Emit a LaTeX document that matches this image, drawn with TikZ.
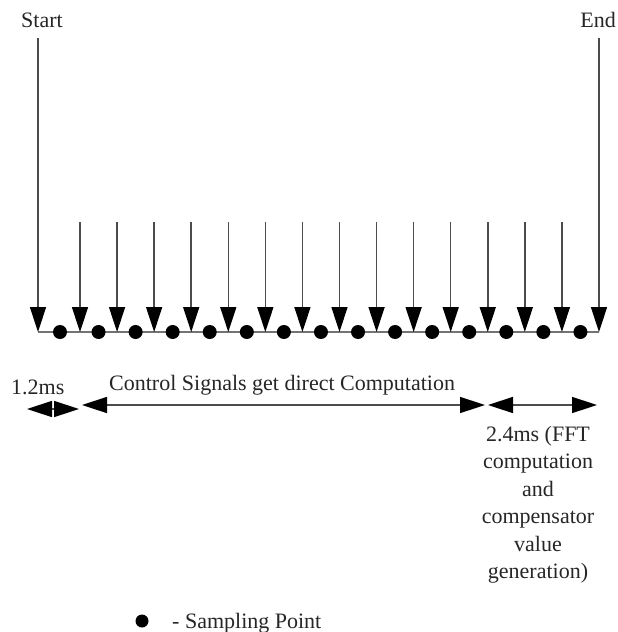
\documentclass[tikz,border=0pt]{standalone}
\usepackage{fontspec}
\setmainfont{Liberation Serif}
\usetikzlibrary{arrows.meta}
\begin{document}
\begin{tikzpicture}[x=1pt,y=-1pt,
  tri/.style={-{Triangle[length=25pt,width=16pt,color=black]}, line width=1.5pt, draw=black!70},
  dbl/.style={{Triangle[length=25pt,width=16pt,color=black]}-{Triangle[length=25pt,width=16pt,color=black]}, line width=1.5pt, draw=black!70},
  lbl/.style={font=\fontsize{22}{27.4}\selectfont, inner sep=0pt, text=black!85},
  sdot/.style={circle, fill=black, minimum size=14pt, inner sep=0pt}]
\useasboundingbox (0,0) rectangle (618,632);
% baseline
\coordinate (bl) at (38,332);
\coordinate (br) at (599,332);
\draw[line width=1.6pt, draw=black!55] (bl) -- (br);
% start / end
\node[lbl, anchor=base] (start) at (42,27) {Start};
\node[lbl, anchor=base east] (end) at (616,27) {End};
\coordinate (st) at (38,38);
\coordinate (et) at (599,38);
\draw[tri] (st) -- (bl);
\draw[tri] (et) -- (br);
% intermediate arrows
\foreach \i in {0,...,13} {
  \coordinate (t\i) at ({80+37.07*\i},222);
  \coordinate (a\i) at ({80+37.07*\i},332);
  \draw[tri] (t\i) -- (a\i);
}
% sampling dots
\node[sdot] (d0) at (60,332) {};
\foreach \i in {1,...,14} {
  \node[sdot] (d\i) at ({80+37.07*(\i-1)+18.535},332) {};
}
% timing labels
\node[lbl, anchor=base west] (t12) at (11,394) {1.2ms};
\node[lbl, anchor=base west] (ctl) at (109,390) {Control Signals get direct Computation};
\coordinate (p1) at (27,409);
\coordinate (p2) at (79,409);
\coordinate (p3) at (82,405);
\coordinate (p4) at (485,405);
\coordinate (p5) at (488,405);
\coordinate (p6) at (597,405);
\draw[dbl] (p1) -- (p2);
\draw[dbl] (p3) -- (p4);
\draw[dbl] (p5) -- (p6);
\node[lbl, anchor=north, align=center] (fft) at (538,426)
  {2.4ms (FFT\\computation\\and\\compensator\\value\\generation)};
% legend
\node[sdot, minimum size=13pt] (ld) at (142,621) {};
\node[lbl, anchor=base west] (leg) at (172,628) {- Sampling Point};
\end{tikzpicture}
\end{document}
